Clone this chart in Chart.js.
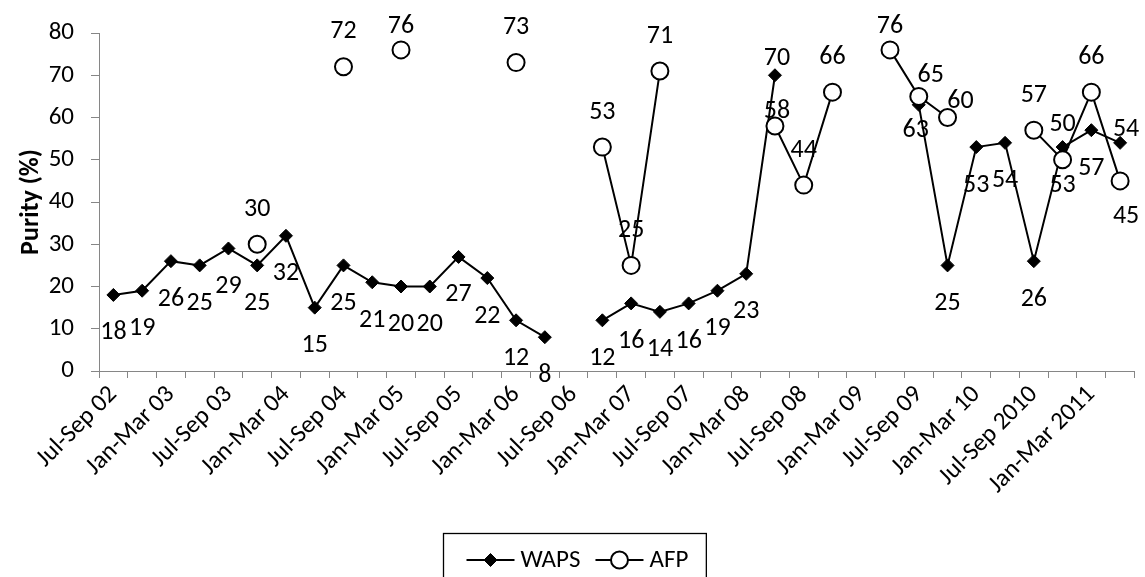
<!DOCTYPE html>
<html><head><meta charset="utf-8">
<script src="https://cdn.jsdelivr.net/npm/chart.js@4.4.1/dist/chart.umd.min.js"></script>
<style>html,body{margin:0;padding:0;background:#fff;} #wrap{width:1145px;height:577px;position:relative;}</style>
</head><body><div id="wrap"><canvas id="c" width="1145" height="577"></canvas></div>
<script>
// ---------- data ----------
const categories = [
 'Jul-Sep 02','Oct-Dec 02','Jan-Mar 03','Apr-Jun 03','Jul-Sep 03','Oct-Dec 03',
 'Jan-Mar 04','Apr-Jun 04','Jul-Sep 04','Oct-Dec 04','Jan-Mar 05','Apr-Jun 05',
 'Jul-Sep 05','Oct-Dec 05','Jan-Mar 06','Apr-Jun 06','Jul-Sep 06','Oct-Dec 06',
 'Jan-Mar 07','Apr-Jun 07','Jul-Sep 07','Oct-Dec 07','Jan-Mar 08','Apr-Jun 08',
 'Jul-Sep 08','Oct-Dec 08','Jan-Mar 09','Apr-Jun 09','Jul-Sep 09','Oct-Dec 09',
 'Jan-Mar 10','Apr-Jun 10','Jul-Sep 2010','Oct-Dec 2010','Jan-Mar 2011','Apr-Jun 2011'];
const wapsValues = [18,19,26,25,29,25,32,15,25,21,20,20,27,22,12,8,null,12,16,14,16,19,23,70,
  null,null,null,null,63,25,53,54,26,53,57,54];
const afpValues = [null,null,null,null,null,30,null,null,72,null,76,null,null,null,73,null,null,
  53,25,71,null,null,null,58,44,66,null,76,65,60,null,null,57,50,66,45];
const yTicks = [0,10,20,30,40,50,60,70,80];
const seriesNames = ['WAPS','AFP'];
const yTitle = 'Purity (%)';

// ---------- styling ----------
const FONT = 'Carlito, Lato, "Liberation Sans", sans-serif';
const GREY = '#868686';
const labelDefault = { WAPS: [0, 37], AFP: [0, -36] };
const labelShift = {
  WAPS: { 23: [2, -18], 28: [-3, 25], 35: [6, -14] },
  AFP:  { 23: [2, -15], 28: [12, -22], 29: [13, -17], 35: [6, 35] }
};

function drawMarker(ctx, style, x, y) {
  ctx.save();
  ctx.lineWidth = style === 'circle' ? 2 : 1;
  ctx.strokeStyle = '#000';
  ctx.beginPath();
  if (style === 'circle') {
    ctx.fillStyle = '#fff';
    ctx.arc(x, y, 8.5, 0, Math.PI * 2);
  } else {
    ctx.fillStyle = '#000';
    const r = 6.5;
    ctx.moveTo(x, y - r); ctx.lineTo(x + r, y); ctx.lineTo(x, y + r); ctx.lineTo(x - r, y); ctx.closePath();
  }
  ctx.fill(); ctx.stroke();
  ctx.restore();
}

const valueLabels = {
  id: 'valueLabels',
  afterDatasetsDraw(chart) {
    const ctx = chart.ctx;
    ctx.save();
    ctx.font = '26px ' + FONT;
    ctx.fillStyle = '#000';
    ctx.textAlign = 'center';
    ctx.textBaseline = 'middle';
    chart.data.datasets.forEach((ds, di) => {
      const meta = chart.getDatasetMeta(di);
      meta.data.forEach((pt, i) => {
        const v = ds.data[i];
        if (v === null || v === undefined) return;
        const s = (labelShift[ds.label] && labelShift[ds.label][i]) || labelDefault[ds.label];
        let y = pt.y + s[1];
        if (y < 25) y = 25;
        ctx.fillText(String(v), pt.x + s[0], y + 1);
      });
    });
    ctx.restore();
  }
};

const boxLegend = {
  id: 'boxLegend',
  afterDraw(chart) {
    const ctx = chart.ctx;
    ctx.save();
    ctx.font = '25px ' + FONT;
    const sample = 48, gapText = 6, gapItem = 15, padL = 23, padR = 18;
    const items = chart.data.datasets.map(ds => ({ ds, w: ctx.measureText(ds.label).width }));
    let content = 0;
    items.forEach((it, k) => { content += sample + gapText + it.w + (k < items.length - 1 ? gapItem : 0); });
    const boxW = content + padL + padR;
    const cx = chart.width / 2 + 2;
    const left = Math.round(cx - boxW / 2) + 0.5;
    const top = 533.5;
    ctx.strokeStyle = '#000';
    ctx.lineWidth = 1.3;
    ctx.strokeRect(left, top, boxW, 80);
    const yMid = 560;
    let x = left + padL;
    items.forEach(it => {
      ctx.strokeStyle = '#000';
      ctx.lineWidth = 2;
      ctx.beginPath(); ctx.moveTo(x, yMid); ctx.lineTo(x + sample, yMid); ctx.stroke();
      drawMarker(ctx, it.ds.pointStyle === 'circle' ? 'circle' : 'diamond', x + sample / 2, yMid);
      x += sample + gapText;
      ctx.fillStyle = '#000';
      ctx.textAlign = 'left';
      ctx.textBaseline = 'middle';
      ctx.fillText(it.ds.label, x, yMid + 1);
      x += it.w + gapItem;
    });
    ctx.restore();
  }
};

new Chart(document.getElementById('c'), {
  type: 'line',
  data: {
    labels: categories,
    datasets: [
      { label: seriesNames[0], data: wapsValues, borderColor: '#000', borderWidth: 2,
        pointStyle: 'rectRot', pointRadius: 6.5, pointBackgroundColor: '#000', pointBorderColor: '#000',
        pointBorderWidth: 1, fill: false, tension: 0, spanGaps: false, order: 1 },
      { label: seriesNames[1], data: afpValues, borderColor: '#000', borderWidth: 2,
        pointStyle: 'circle', pointRadius: 8.5, pointBackgroundColor: '#fff', pointBorderColor: '#000',
        pointBorderWidth: 2, fill: false, tension: 0, spanGaps: false, order: 0 }
    ]
  },
  options: {
    responsive: false,
    animation: false,
    devicePixelRatio: 1,
    layout: { padding: { top: 33, right: 5, bottom: 0, left: 0 } },
    plugins: { legend: { display: false }, tooltip: { enabled: false } },
    scales: {
      x: {
        type: 'category',
        offset: true,
        grid: { display: true, offset: true, drawOnChartArea: false, drawTicks: true, tickLength: 7, color: GREY, lineWidth: 1 },
        border: { display: true, color: GREY, width: 1 },
        ticks: {
          autoSkip: false, maxRotation: 45, minRotation: 45, padding: 2,
          color: '#000', font: { family: FONT, size: 25 },
          callback: function (v, i) { return i % 2 === 0 ? categories[i] : ''; }
        },
        afterFit(scale) { scale.height = 577 - 371; }
      },
      y: {
        min: 0, max: 80,
        afterBuildTicks(scale) { scale.ticks = yTicks.map(v => ({ value: v })); },
        grid: { display: true, drawOnChartArea: false, drawTicks: true, tickLength: 8, color: GREY, lineWidth: 1 },
        border: { display: true, color: GREY, width: 1 },
        ticks: { color: '#000', padding: 17, font: { family: FONT, size: 25 } },
        title: { display: true, text: yTitle, color: '#000', font: { family: FONT, size: 26, weight: 'bold' }, padding: { top: 16, bottom: 0 } },
        afterFit(scale) { scale.width = 99; }
      }
    }
  },
  plugins: [valueLabels, boxLegend]
});
</script>
</body></html>
